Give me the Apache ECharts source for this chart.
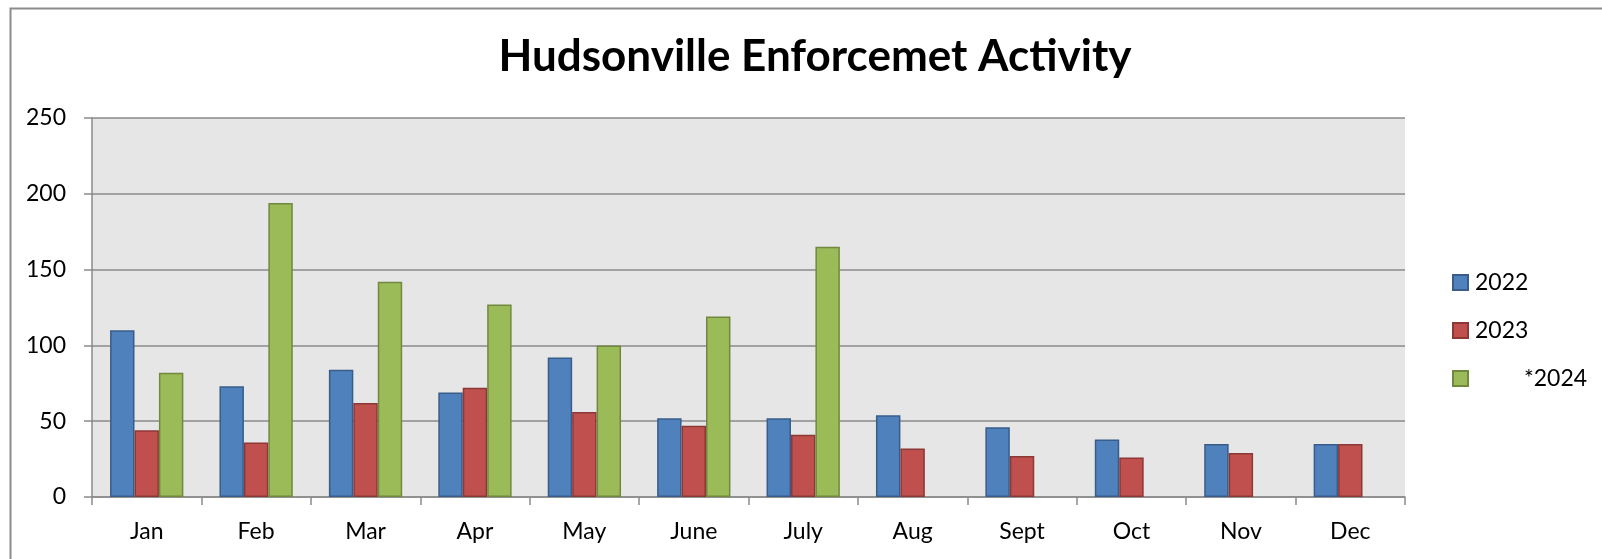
<!DOCTYPE html>
<html>
<head>
<meta charset="utf-8">
<title>Hudsonville Enforcemet Activity</title>
<script src="https://cdn.jsdelivr.net/npm/echarts@6/dist/echarts.min.js"></script>
<style>
  html, body { margin: 0; padding: 0; background: #ffffff; }
  #chart { width: 1602px; height: 559px; }
</style>
</head>
<body>
<div id="chart"></div>
<script>
// Monthly enforcement counts
const months = ['Jan', 'Feb', 'Mar', 'Apr', 'May', 'June', 'July', 'Aug', 'Sept', 'Oct', 'Nov', 'Dec'];
const values2022 = [110, 73, 84, 69, 92, 52, 52, 54, 46, 38, 35, 35];
const values2023 = [44, 36, 62, 72, 56, 47, 41, 32, 27, 26, 29, 35];
const values2024 = [82, 194, 142, 127, 100, 119, 165, null, null, null, null, null];
const yTicks = [0, 50, 100, 150, 200, 250];

const FONT = 'Lato, "Open Sans", sans-serif';
const GRID_GRAY = '#8a8a8a';

const chart = echarts.init(document.getElementById('chart'), null, { renderer: 'canvas' });

function barSeries(name, data, fill, edge) {
  return {
    name: name,
    type: 'bar',
    data: data,
    barGap: '0%',
    barCategoryGap: '33%',
    itemStyle: { color: fill, borderColor: edge, borderWidth: 1.5 },
    emphasis: { disabled: true }
  };
}

chart.setOption({
  animation: false,
  backgroundColor: '#ffffff',
  title: {
    text: 'Hudsonville Enforcemet Activity',
    left: 810,
    top: 30,
    textAlign: 'center',
    textStyle: { fontFamily: FONT, fontSize: 44, fontWeight: 'bold', color: '#000000' }
  },
  graphic: [{
    type: 'rect',
    left: 8,
    top: 6,
    z: -1,
    shape: { width: 1700, height: 700 },
    style: { fill: 'none', stroke: '#8c8c8c', lineWidth: 2 }
  }],
  legend: {
    orient: 'vertical',
    left: 1447,
    top: 266,
    itemWidth: 15,
    itemHeight: 15,
    itemGap: 25,
    icon: 'rect',
    selectedMode: false,
    formatter: function (name) {
      // the 2024 entry is set in from the others
      return name === '*2024' ? '{gap|}{t|' + name + '}' : name;
    },
    textStyle: {
      fontFamily: FONT, fontSize: 23, color: '#000000', lineHeight: 23, padding: [0, 0, 0, 2],
      rich: {
        gap: { width: 49, height: 23 },
        t: { fontFamily: FONT, fontSize: 23, color: '#000000', lineHeight: 23 }
      }
    },
    data: ['2022', '2023', '*2024']
  },
  grid: {
    left: 92,
    right: 197,
    top: 118,
    bottom: 62,
    show: true,
    backgroundColor: '#e6e6e6',
    borderWidth: 0
  },
  xAxis: {
    type: 'category',
    data: months,
    boundaryGap: true,
    axisLine: { lineStyle: { color: GRID_GRAY, width: 1.5 } },
    axisTick: { show: true, length: 8, inside: false, lineStyle: { color: GRID_GRAY, width: 1.5 } },
    axisLabel: { fontFamily: FONT, fontSize: 23, color: '#000000', margin: 23 },
    splitLine: { show: false }
  },
  yAxis: {
    type: 'value',
    min: yTicks[0],
    max: yTicks[yTicks.length - 1],
    interval: yTicks[1] - yTicks[0],
    axisLine: { show: true, lineStyle: { color: GRID_GRAY, width: 1.5 } },
    axisTick: { show: true, length: 8, lineStyle: { color: GRID_GRAY, width: 1.5 } },
    axisLabel: { fontFamily: FONT, fontSize: 23, color: '#000000', margin: 26 },
    splitLine: { show: true, lineStyle: { color: GRID_GRAY, width: 1.5 } }
  },
  series: [
    barSeries('2022', values2022, '#4f81bd', '#385d8a'),
    barSeries('2023', values2023, '#c0504d', '#8c3836'),
    barSeries('*2024', values2024, '#9bbb59', '#71893f')
  ]
});
</script>
</body>
</html>
